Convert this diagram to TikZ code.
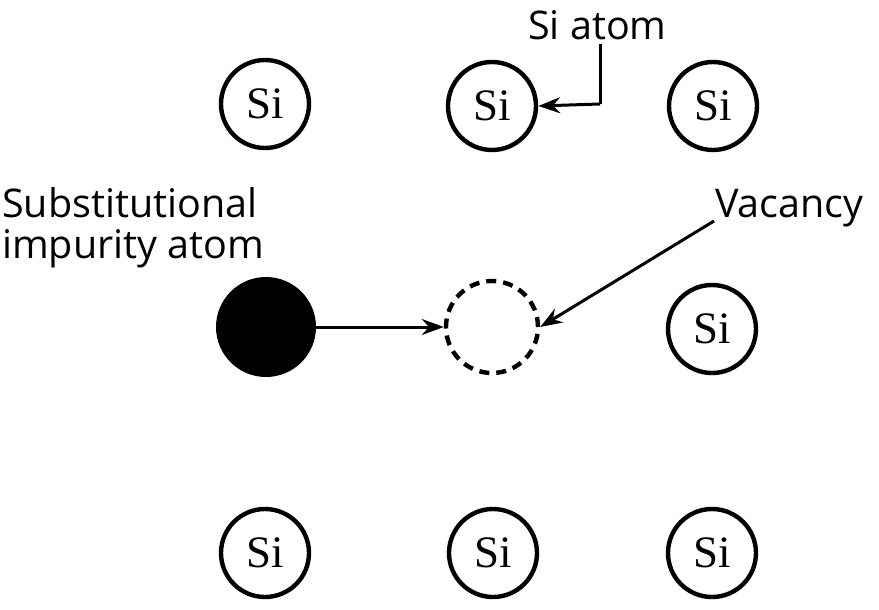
\documentclass[tikz,border=0pt]{standalone}
\usepackage{fontspec}
\setmainfont{Liberation Serif}
\newfontfamily\labelfont{Open Sans}
\usetikzlibrary{arrows.meta}
\begin{document}
\begin{tikzpicture}[x=1pt,y=-1pt,
  atom/.style={circle,draw,line width=4.4pt,minimum size=88pt,inner sep=0pt,font=\fontsize{45}{48}\selectfont},
  impurity/.style={circle,fill=black,minimum size=100pt,inner sep=0pt},
  vacancy/.style={circle,draw,dash pattern=on 10pt off 7pt,line width=4.4pt,minimum size=92pt,inner sep=0pt},
  lbl/.style={font=\labelfont\fontsize{39.5}{41}\selectfont,inner sep=0pt},
  arr/.style={line width=3pt,-{Stealth[length=22pt,width=16pt]}}]
\useasboundingbox (0,0) rectangle (879,610);
\node[atom] (a11) at (265,104) {Si};
\node[atom] (a12) at (492,106) {Si};
\node[atom] (a13) at (713,106) {Si};
\node[impurity] (imp) at (266,327) {};
\node[vacancy] (vac) at (492,327) {};
\node[atom] (a23) at (712,329) {Si};
\node[atom] (a31) at (265,553) {Si};
\node[atom] (a32) at (493,553) {Si};
\node[atom] (a33) at (712,553) {Si};
\node[lbl,anchor=base west] (siatom) at (528,40) {Si atom};
\node[lbl,anchor=base west] (sub) at (2,217) {Substitutional};
\node[lbl,anchor=base west] (imptxt) at (2,258) {impurity atom};
\node[lbl,anchor=base west] (vactxt) at (715,217) {Vacancy};
\coordinate (bend) at (600,44);
\coordinate (corner) at (600,104);
\draw[line width=3pt] (bend) -- (corner);
\draw[arr] (corner) -- (a12.east);
\draw[arr] (imp.east) -- (vac.west);
\draw[arr] (714,221) -- (vac.east);
\end{tikzpicture}
\end{document}
